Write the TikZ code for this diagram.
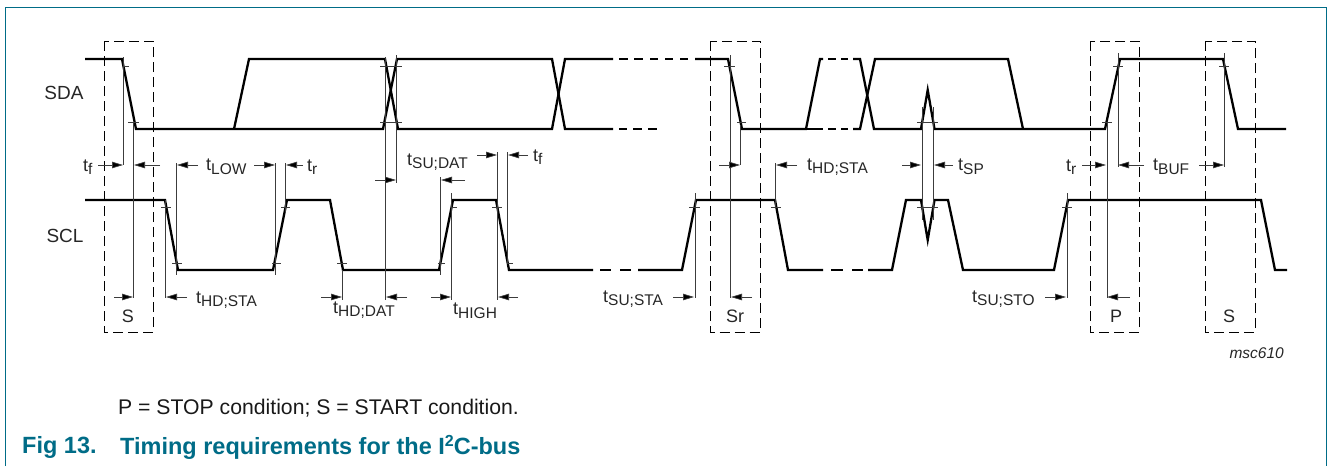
\documentclass[tikz,border=0pt]{standalone}
\usepackage{fontspec}
\setmainfont{Liberation Sans}
\usetikzlibrary{calc}
\usetikzlibrary{arrows.meta}
\definecolor{frameteal}{RGB}{0,108,135}
\definecolor{dimgrey}{RGB}{60,60,60}
\newcommand{\tsub}[1]{t\raisebox{-3.5pt}{\fontsize{15.5}{16}\selectfont #1}}
\tikzset{
  wave/.style={line width=2.3pt,black,line join=miter},
  guide/.style={line width=0.8pt,dimgrey},
  tick/.style={line width=0.7pt,dimgrey},
  dimarrow/.style={-{Triangle[length=11pt,width=6.5pt,fill=black]},line width=0.7pt,dimgrey},
  condbox/.style={dashed,dash pattern=on 10pt off 5pt,line width=0.9pt,black},
  label/.style={font=\fontsize{18}{20}\selectfont,inner sep=0pt,text=black!85}
}
\begin{document}
\begin{tikzpicture}[x=1pt,y=-1pt]
    \useasboundingbox (0,0) rectangle (1328,466);

    % Cadre
    \draw[frameteal,line width=1.4pt] (5.5,466) -- (5.5,7.5) -- (1326.5,7.5) -- (1326.5,466);

    % Niveaux des signaux
    \def\hiA{59} \def\loA{129} \def\hiC{200} \def\loC{270}

    % Signal SDA
    \draw[wave] (85,\hiA) -- (122,\hiA) -- (136,\loA) -- (383,\loA) -- (397,\hiA) -- (552,\hiA) -- (565,\loA) -- (613,\loA);
    \draw[wave] (234,\loA) -- (249,\hiA) -- (385,\hiA) -- (398,\loA) -- (552,\loA) -- (565,\hiA) -- (613,\hiA);
    \draw[wave] (619,\hiA) -- (628,\hiA) (634,\hiA) -- (643,\hiA) (650,\hiA) -- (658,\hiA) (665,\hiA) -- (673,\hiA) (680,\hiA) -- (688,\hiA);
    \draw[wave] (619,\loA) -- (627,\loA) (633,\loA) -- (642,\loA) (648,\loA) -- (657,\loA);
    \draw[wave] (695,\hiA) -- (728,\hiA) -- (742,\loA) -- (806,\loA) -- (820,\hiA) -- (823,\hiA);
    \draw[wave] (806,\loA) -- (823,\loA);
    \draw[wave] (828,\hiA) -- (836,\hiA) (841,\hiA) -- (848,\hiA) (828,\loA) -- (836,\loA) (841,\loA) -- (848,\loA);
    \draw[wave] (853,\hiA) -- (860,\hiA) -- (874,\loA) -- (921,\loA) -- (927.7,90) -- (934.5,\loA) -- (1023,\loA) -- (1105,\loA) -- (1120,\hiA) -- (1223,\hiA) -- (1238,\loA) -- (1286,\loA);
    \draw[wave] (853,\loA) -- (860,\loA) -- (875,\hiA) -- (1008,\hiA) -- (1023,\loA);

    % Signal SCL
    \draw[wave] (85,\hiC) -- (165,\hiC) -- (178,\loC) -- (273,\loC) -- (287,\hiC) -- (330,\hiC) -- (343,\loC) -- (439,\loC) -- (453,\hiC) -- (496,\hiC) -- (509,\loC) -- (593,\loC);
    \draw[wave] (600,\loC) -- (611,\loC) (620,\loC) -- (631,\loC);
    \draw[wave] (638,\loC) -- (682,\loC) -- (696,\hiC) -- (775,\hiC) -- (788,\loC) -- (823,\loC);
    \draw[wave] (831,\loC) -- (843,\loC) (852,\loC) -- (863,\loC);
    \draw[wave] (868,\loC) -- (892,\loC) -- (906,\hiC) -- (921,\hiC) -- (927.7,240) -- (934.5,\hiC) -- (948,\hiC) -- (963,\loC) -- (1054,\loC) -- (1068,\hiC) -- (1261,\hiC) -- (1275,\loC) -- (1287,\loC);

    % Conditions en pointilles
    \draw[condbox] (104,41) rectangle (153,332);
    \draw[condbox] (710.5,41) rectangle (760,332);
    \draw[condbox] (1090,41) rectangle (1139,332);
    \draw[condbox] (1205,41) rectangle (1255,332);

    % Seuils
    \foreach \xa/\xb in {122/129,380/402,724/735,1113/1123,1219/1229}
        \draw[tick] (\xa,66) -- (\xb,66);
    \foreach \xa/\xb in {128/139,380/402,737/746,917/938,1102/1112}
        \draw[tick] (\xa,122) -- (\xb,122);
    \foreach \xa/\xb in {161/171,281/290,451/457,492/502,689/700,771/781,917/938,1062/1072}
        \draw[tick] (\xa,207) -- (\xb,207);
    \foreach \xa/\xb in {172/182,272/281,337/347,438/445,507/513}
        \draw[tick] (\xa,263) -- (\xb,263);

    % Reperes verticaux
    \foreach \xa/\ya/\yb in {123/57/165,133.5/122/298,165/200/298,176.5/163/275,275/163/275,285.7/163/212,
        342/270/300,385/57/300,396/55/183,440.7/177/275,451.7/193/300,497/152/300,507.7/152/263,695/193/298,
        730/55/298,740/125/165,775.7/163/207,922/107/220,933/107/220,1067/193/298,1107/122/298,1118/53/167,1224/53/167}
        \draw[guide] (\xa,\ya) -- (\xa,\yb);

    % Fleches des temps
    \foreach \xa/\xb/\ya in {98/123/165,160/134/165,114/133/297,187/166/297,198/177/165,254/275/165,303/286/165,
        321/342/297,375/396/180,407/386/297,465/441/180,431/451/297,477/497/155,518/498/297,528/508/155,673/694/297,
        719/740/165,752/731/297,797/776/165,902/921/165,953/934/165,1045/1066/297,1082/1106/165,1130/1107/297,
        1144/1118/165,1199/1224/165}
        \draw[dimarrow] (\xa,\ya) -- (\xb,\ya);

    % Noms des signaux et des conditions
    \node[label,font=\fontsize{19}{20}\selectfont] (sda) at (64,93) {SDA};
    \node[label,font=\fontsize{19}{20}\selectfont] (scl) at (65,236) {SCL};
    \node[label] (startA) at (128,316) {S};
    \node[label] (restart) at (735,316) {Sr};
    \node[label] (stop) at (1116,316) {P};
    \node[label] (startB) at (1229,316) {S};

    % Noms des temps
    \node[label,anchor=west] (tfA) at (83,167) {\tsub{f}};
    \node[label,anchor=west] (tlow) at (206,167) {\tsub{LOW}};
    \node[label,anchor=west] (trA) at (307,167) {\tsub{r}};
    \node[label,anchor=west] (thdstaA) at (196,300) {\tsub{HD;STA}};
    \node[label,anchor=west] (thddat) at (333,310) {\tsub{HD;DAT}};
    \node[label,anchor=west] (tsudat) at (407,162) {\tsub{SU;DAT}};
    \node[label,anchor=west] (thigh) at (453,311) {\tsub{HIGH}};
    \node[label,anchor=west] (tfB) at (533,157) {\tsub{f}};
    \node[label,anchor=west] (tsusta) at (603,299) {\tsub{SU;STA}};
    \node[label,anchor=west] (thdstaB) at (807,167) {\tsub{HD;STA}};
    \node[label,anchor=west] (tsp) at (958,167) {\tsub{SP}};
    \node[label,anchor=west] (tsusto) at (972,299) {\tsub{SU;STO}};
    \node[label,anchor=west] (trB) at (1066,167) {\tsub{r}};
    \node[label,anchor=west] (tbuf) at (1153,167) {\tsub{BUF}};

    % Textes du bas
    \node[font=\fontsize{15.5}{17}\selectfont\itshape,inner sep=0pt,anchor=east,text=black!85] (ref) at (1284,353) {msc610};
    \node[font=\fontsize{21.2}{23}\selectfont,inner sep=0pt,anchor=west,text=black!90] (note) at (118,408) {P = STOP condition; S = START condition.};
    \node[font=\fontsize{23.5}{25}\selectfont\bfseries,inner sep=0pt,anchor=west,text=frameteal] (figno) at (22,447) {Fig 13.};
    \node[font=\fontsize{23.5}{25}\selectfont\bfseries,inner sep=0pt,anchor=west,text=frameteal] (caption) at (120,447) {Timing requirements for the I\raisebox{8pt}{\fontsize{16}{16}\selectfont 2}C-bus};
\end{tikzpicture}
\end{document}
